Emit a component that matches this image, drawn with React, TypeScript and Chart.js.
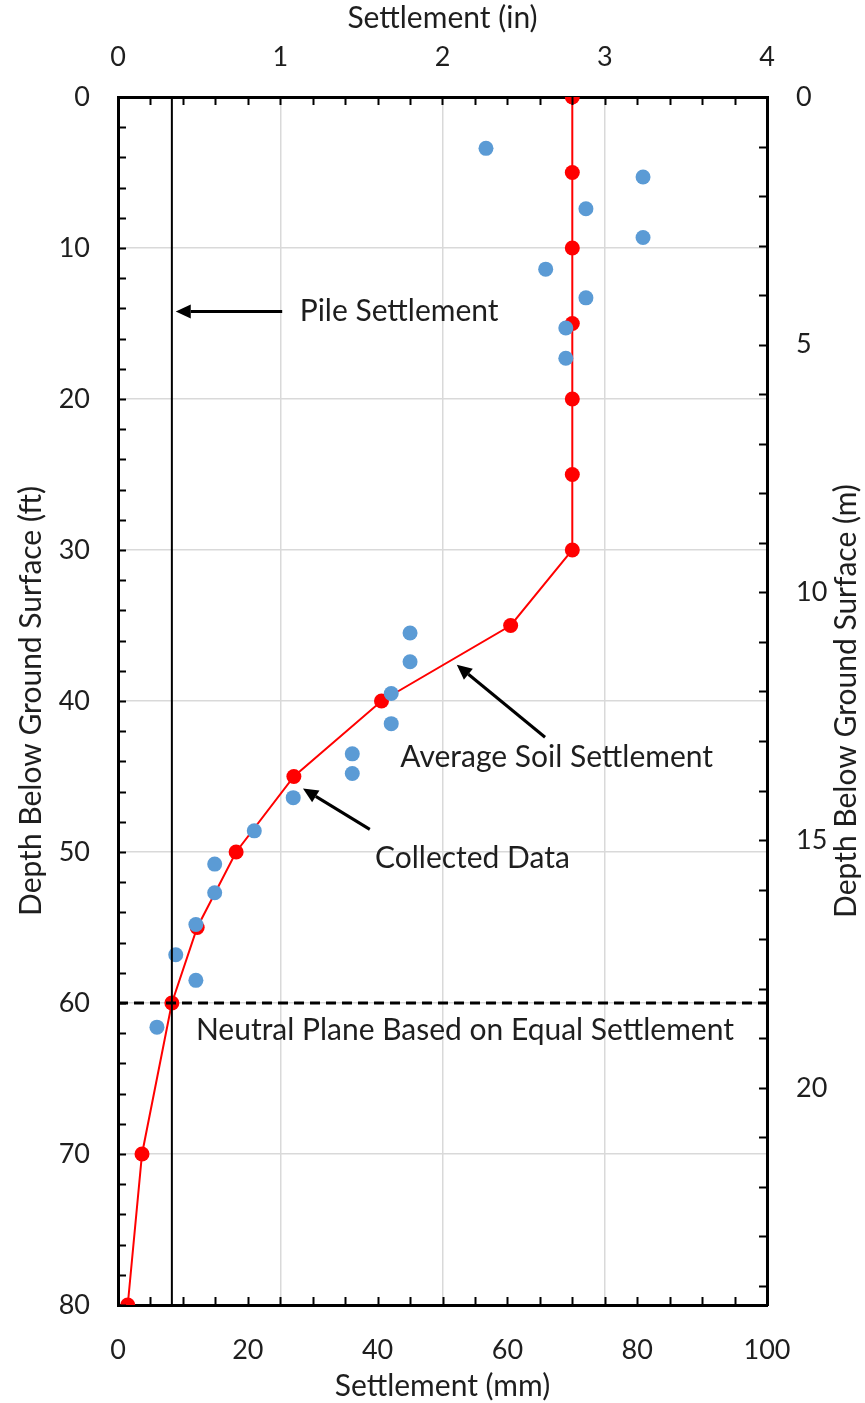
import React, { useEffect, useRef } from "react";
import { Chart, registerables } from "chart.js";

Chart.register(...registerables);

// ---------------- Data ----------------
const avgDepthFt = [0, 5, 10, 15, 20, 25, 30, 35, 40, 45, 50, 55, 60, 70, 80];
const avgSettlementMm = [70, 70, 70, 70, 70, 70, 70, 60.5, 40.6, 27.1, 18.2, 12.2, 8.3, 3.7, 1.5];

const collectedDepthFt = [3.4, 5.3, 7.4, 9.3, 11.4, 13.3, 15.3, 17.3, 35.5, 37.4, 39.5, 41.5, 43.5, 44.8, 46.4, 48.6, 50.8, 52.7, 54.8, 56.8, 58.5, 61.6];
const collectedSettlementMm = [56.7, 80.9, 72.1, 80.9, 65.9, 72.1, 69.0, 69.0, 45.0, 45.0, 42.1, 42.1, 36.1, 36.1, 27.0, 21.0, 14.9, 14.9, 12.0, 8.9, 12.0, 6.0];

const pileSettlementMm = 8.3;
const pileDepthRangeFt = [0, 80];
const neutralPlaneDepthFt = 60;
const neutralPlaneRangeMm = [0, 100];

// Axis ranges / tick steps
const mmRange = [0, 100];
const mmStep = 20;
const mmMinorStep = 5;
const inRange = [0, 4];
const inStep = 1;
const inMinorStep = 0.2;
const ftRange = [0, 80];
const ftStep = 10;
const ftMinorStep = 2;
const mRange = [0, 80 * 0.3048];
const mStep = 5;
const mMinorStep = 1;

// Titles
const titleBottom = "Settlement (mm)";
const titleTop = "Settlement (in)";
const titleLeft = "Depth Below Ground Surface (ft)";
const titleRight = "Depth Below Ground Surface (m)";

// Annotations (data coordinates: mm, ft)
const annotationLabels = ["Pile Settlement", "Average Soil Settlement", "Collected Data", "Neutral Plane Based on Equal Settlement"];
const annotationLeftMm = [28.0, 43.5, 39.6, 12.0];
const annotationCenterFt = [14.2, 43.7, 50.4, 61.8];

const arrowTailMm = [25.3, 65.8, 38.8];
const arrowTailFt = [14.2, 42.4, 48.5];
const arrowHeadMm = [8.9, 52.2, 28.5];
const arrowHeadFt = [14.2, 37.6, 45.8];

// ---------------- Styles ----------------
const FONT_FAMILY = "Lato";
const TICK_SIZE = 27;
const TITLE_SIZE = 30;
const TEXT_COLOR = "#1e1e1e";
const GRID_COLOR = "#d9d9d9";

const tickFont = { family: FONT_FAMILY, size: TICK_SIZE };
const titleFont = { family: FONT_FAMILY, size: TITLE_SIZE, lineHeight: 1.0 };

const overlayPlugin = {
  id: "overlay",
  afterDraw(chart: any) {
    const ctx = chart.ctx as CanvasRenderingContext2D;
    const { left, right, top, bottom } = chart.chartArea;
    const sx = chart.scales.x;
    const sx2 = chart.scales.x2;
    const sy = chart.scales.y;
    const sy2 = chart.scales.y2;
    ctx.save();
    ctx.strokeStyle = "#000";
    ctx.lineWidth = 2;
    const tick = 8;
    ctx.beginPath();
    for (let v = ftRange[0]; v <= ftRange[1] + 1e-9; v += ftMinorStep) {
      const p = Math.round(sy.getPixelForValue(v)) + 0.5;
      ctx.moveTo(left, p);
      ctx.lineTo(left + tick, p);
    }
    for (let v = mRange[0]; v <= mRange[1] + 1e-9; v += mMinorStep) {
      const p = Math.round(sy2.getPixelForValue(v)) + 0.5;
      ctx.moveTo(right, p);
      ctx.lineTo(right - tick, p);
    }
    for (let v = inRange[0]; v <= inRange[1] + 1e-9; v += inMinorStep) {
      const p = Math.round(sx2.getPixelForValue(v)) + 0.5;
      ctx.moveTo(p, top);
      ctx.lineTo(p, top + tick);
    }
    for (let v = mmRange[0]; v <= mmRange[1] + 1e-9; v += mmMinorStep) {
      const p = Math.round(sx.getPixelForValue(v)) + 0.5;
      ctx.moveTo(p, bottom);
      ctx.lineTo(p, bottom - tick);
    }
    ctx.stroke();

    // annotations text
    ctx.fillStyle = TEXT_COLOR;
    ctx.font = `${TITLE_SIZE}px ${FONT_FAMILY}`;
    ctx.textAlign = "left";
    ctx.textBaseline = "middle";
    annotationLabels.forEach((t, i) => {
      ctx.fillText(t, sx.getPixelForValue(annotationLeftMm[i]), sy.getPixelForValue(annotationCenterFt[i]));
    });

    // arrows
    ctx.strokeStyle = "#000";
    ctx.fillStyle = "#000";
    ctx.lineWidth = 3;
    arrowTailMm.forEach((_, i) => {
      const x0 = sx.getPixelForValue(arrowTailMm[i]);
      const y0 = sy.getPixelForValue(arrowTailFt[i]);
      const x1 = sx.getPixelForValue(arrowHeadMm[i]);
      const y1 = sy.getPixelForValue(arrowHeadFt[i]);
      const ang = Math.atan2(y1 - y0, x1 - x0);
      const hl = 15;
      const hw = 7;
      const bx = x1 - hl * Math.cos(ang);
      const by = y1 - hl * Math.sin(ang);
      ctx.beginPath();
      ctx.moveTo(x0, y0);
      ctx.lineTo(bx, by);
      ctx.stroke();
      ctx.beginPath();
      ctx.moveTo(x1, y1);
      ctx.lineTo(bx + hw * Math.sin(ang), by - hw * Math.cos(ang));
      ctx.lineTo(bx - hw * Math.sin(ang), by + hw * Math.cos(ang));
      ctx.closePath();
      ctx.fill();
    });

    // right axis title (reads bottom-to-top)
    ctx.fillStyle = TEXT_COLOR;
    ctx.font = `${TITLE_SIZE}px ${FONT_FAMILY}`;
    ctx.textAlign = "center";
    ctx.textBaseline = "middle";
    ctx.translate(sy2.right - 19, (top + bottom) / 2);
    ctx.rotate(-Math.PI / 2);
    ctx.fillText(titleRight, 0, 0);
    ctx.restore();
  },
};

function buildConfig(): any {
  const avgPoints = avgDepthFt.map((d, i) => ({ x: avgSettlementMm[i], y: d }));
  const collectedPoints = collectedDepthFt.map((d, i) => ({ x: collectedSettlementMm[i], y: d }));
  const pilePoints = pileDepthRangeFt.map((d) => ({ x: pileSettlementMm, y: d }));
  const neutralPoints = neutralPlaneRangeMm.map((m) => ({ x: m, y: neutralPlaneDepthFt }));

  return {
    type: "scatter",
    data: {
      datasets: [
        {
          label: "Neutral Plane",
          data: neutralPoints,
          showLine: true,
          borderColor: "#000",
          borderWidth: 3,
          borderDash: [10, 6],
          pointRadius: 0,
          order: 0,
        },
        {
          label: "Pile Settlement",
          data: pilePoints,
          showLine: true,
          borderColor: "#000",
          borderWidth: 2,
          pointRadius: 0,
          order: 1,
        },
        {
          label: "Collected Data",
          data: collectedPoints,
          showLine: false,
          backgroundColor: "#5B9BD5",
          borderWidth: 0,
          pointRadius: 7.5,
          order: 2,
        },
        {
          label: "Average Soil Settlement",
          data: avgPoints,
          showLine: true,
          borderColor: "#FF0000",
          borderWidth: 2,
          backgroundColor: "#FF0000",
          pointBorderWidth: 0,
          pointRadius: 7.5,
          order: 3,
        },
      ],
    },
    options: {
      responsive: false,
      animation: false,
      layout: { padding: 0 },
      plugins: { legend: { display: false }, tooltip: { enabled: false } },
      scales: {
        x: {
          type: "linear",
          position: "bottom",
          min: mmRange[0],
          max: mmRange[1],
          ticks: { stepSize: mmStep, padding: 29, color: TEXT_COLOR, font: tickFont },
          grid: { display: false, drawTicks: false },
          border: { display: true, color: "#000", width: 3 },
          title: { display: true, text: titleBottom, color: TEXT_COLOR, font: titleFont, padding: { top: 0, bottom: 2 } },
          afterFit: (s: any) => { s.height = 98; },
        },
        x2: {
          type: "linear",
          position: "top",
          min: inRange[0],
          max: inRange[1],
          ticks: { stepSize: inStep, padding: 24, color: TEXT_COLOR, font: tickFont },
          grid: { display: true, color: GRID_COLOR, lineWidth: 1.5, drawTicks: false },
          border: { display: true, color: "#000", width: 3 },
          title: { display: true, text: titleTop, color: TEXT_COLOR, font: titleFont, padding: { top: 3, bottom: 0 } },
          afterFit: (s: any) => { s.height = 97; },
        },
        y: {
          type: "linear",
          position: "left",
          reverse: true,
          min: ftRange[0],
          max: ftRange[1],
          ticks: { stepSize: ftStep, padding: 28, color: TEXT_COLOR, font: tickFont },
          grid: { display: true, color: GRID_COLOR, lineWidth: 1.5, drawTicks: false },
          border: { display: true, color: "#000", width: 3 },
          title: { display: true, text: titleLeft, color: TEXT_COLOR, font: titleFont, padding: { top: 16, bottom: 0 } },
          afterFit: (s: any) => { s.width = 118; },
        },
        y2: {
          type: "linear",
          position: "right",
          reverse: true,
          min: mRange[0],
          max: mRange[1],
          ticks: { stepSize: mStep, padding: 29, color: TEXT_COLOR, font: tickFont },
          afterBuildTicks: (s: any) => {
            s.ticks = s.ticks.filter((t: any) => Math.abs(t.value / mStep - Math.round(t.value / mStep)) < 1e-6);
          },
          grid: { display: false, drawTicks: false },
          border: { display: true, color: "#000", width: 3 },
          title: { display: false },
          afterFit: (s: any) => { s.width = 98; },
        },
      },
    },
    plugins: [overlayPlugin],
  };
}

export default function App() {
  const ref = useRef<HTMLCanvasElement>(null);
  useEffect(() => {
    let chart: Chart | null = null;
    let cancelled = false;
    const make = () => {
      if (cancelled || !ref.current) return;
      chart = new Chart(ref.current, buildConfig());
    };
    if ((document as any).fonts && (document as any).fonts.load) {
      (document as any).fonts.load(`${TITLE_SIZE}px ${FONT_FAMILY}`).then(make, make);
    } else {
      make();
    }
    return () => {
      cancelled = true;
      if (chart) chart.destroy();
    };
  }, []);
  return (
    <div style={{ position: "absolute", left: 0, top: 0, width: 865, height: 1403, background: "#fff" }}>
      <canvas ref={ref} width={865} height={1403} style={{ display: "block", width: 865, height: 1403 }} />
    </div>
  );
}
